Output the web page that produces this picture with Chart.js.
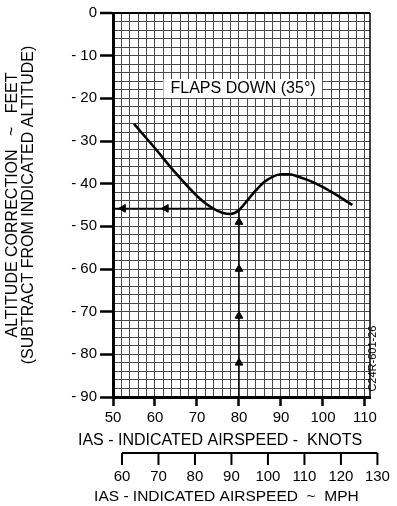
<!DOCTYPE html>
<html>
<head>
<meta charset="utf-8">
<script src="https://cdn.jsdelivr.net/npm/chart.js@4"></script>
<style>
  body { margin: 0; background: #fff; }
  canvas { display: block; }
</style>
</head>
<body>
<canvas id="myChart" width="397" height="506"></canvas>
<script>
// curve (knots -> feet)
const knots = [55, 60, 65, 70, 72, 74, 76, 78, 80, 82, 84, 86, 88, 90, 92, 94, 96, 98, 100, 102, 104, 106, 107];
const correction = [-26, -31.7, -37.6, -42.9, -44.6, -45.9, -46.8, -47.1, -46.2, -43.9, -41.6, -39.6, -38.4, -37.8, -37.8, -38.3, -39, -39.8, -40.8, -41.9, -43.1, -44.4, -45];

// example path arrows
const guideH = [{x: 50, y: -45.8}, {x: 74, y: -45.8}];
const guideV = [{x: 80, y: -90}, {x: 80, y: -46.2}];
const arrowsLeft = [{x: 52.4, y: -45.8}, {x: 62.6, y: -45.8}];
const arrowsUp = [{x: 80, y: -49}, {x: 80, y: -60}, {x: 80, y: -71}, {x: 80, y: -82}];

const mphTicks = [60, 70, 80, 90, 100, 110, 120, 130];
const KNOTS_PER_MPH = 0.868976;

const FONT = 'Liberation Sans, Arial, sans-serif';
Chart.defaults.font.family = FONT;
Chart.defaults.color = '#000';

const isMajor = v => Math.round(v) % 10 === 0;

const extras = {
  id: 'extras',
  afterDraw(chart) {
    const ctx = chart.ctx;
    const x = chart.scales.x, y = chart.scales.y;
    const area = chart.chartArea;
    ctx.save();

    // right frame edge
    ctx.strokeStyle = '#000';
    ctx.lineWidth = 1.5;
    ctx.beginPath();
    ctx.moveTo(area.right, area.top);
    ctx.lineTo(area.right, area.bottom);
    ctx.stroke();

    // flaps label on white
    ctx.fillStyle = '#fff';
    const bx = x.getPixelForValue(62), bx2 = x.getPixelForValue(99.8);
    const by = y.getPixelForValue(-15.5), by2 = y.getPixelForValue(-19.9);
    ctx.fillRect(bx, by, bx2 - bx, by2 - by);
    ctx.fillStyle = '#000';
    ctx.font = '16px ' + FONT;
    ctx.textBaseline = 'middle';
    ctx.textAlign = 'left';
    ctx.fillText('FLAPS DOWN (35°)', x.getPixelForValue(63.7), y.getPixelForValue(-17.7));

    // drawing number
    ctx.save();
    ctx.translate(area.right + 3, y.getPixelForValue(-81));
    ctx.rotate(-Math.PI / 2);
    ctx.font = '11px ' + FONT;
    ctx.textAlign = 'center';
    ctx.textBaseline = 'middle';
    ctx.fillText('C24R-601-26', 0, 0);
    ctx.restore();

    // knots axis title
    ctx.textAlign = 'center';
    ctx.font = '16px ' + FONT;
    ctx.fillText('IAS - INDICATED AIRSPEED -  KNOTS', x.getPixelForValue(75.5), area.bottom + 44);

    // second axis in mph
    const lineY = area.bottom + 56;
    const px = mphTicks.map(m => x.getPixelForValue(m * KNOTS_PER_MPH));
    ctx.lineWidth = 2;
    ctx.beginPath();
    ctx.moveTo(px[0], lineY);
    ctx.lineTo(px[px.length - 1], lineY);
    px.forEach(p => { ctx.moveTo(p, lineY); ctx.lineTo(p, lineY + 12); });
    ctx.stroke();
    ctx.font = '15px ' + FONT;
    mphTicks.forEach((m, i) => ctx.fillText(String(m), px[i], lineY + 24));
    ctx.font = '15.5px ' + FONT;
    ctx.fillText('IAS - INDICATED AIRSPEED  ~  MPH', x.getPixelForValue(77), lineY + 44);
    ctx.restore();
  }
};

const config = {
  type: 'line',
  data: {
    datasets: [
      {
        data: knots.map((k, i) => ({x: k, y: correction[i]})),
        borderColor: '#000',
        borderWidth: 2.6,
        pointRadius: 0,
        cubicInterpolationMode: 'monotone'
      },
      { data: guideH, borderColor: '#000', borderWidth: 1.5, pointRadius: 0 },
      { data: guideV, borderColor: '#000', borderWidth: 1.5, pointRadius: 0 },
      {
        data: arrowsLeft, showLine: false, pointStyle: 'triangle', rotation: -90,
        pointRadius: 4.5, backgroundColor: '#000', borderColor: '#000', borderWidth: 1
      },
      {
        data: arrowsUp, showLine: false, pointStyle: 'triangle', rotation: 0,
        pointRadius: 4.5, backgroundColor: '#000', borderColor: '#000', borderWidth: 1
      }
    ]
  },
  options: {
    responsive: false,
    animation: false,
    layout: { padding: { top: 13, right: 27, left: 0, bottom: 0 } },
    plugins: { legend: { display: false }, tooltip: { enabled: false } },
    scales: {
      x: {
        type: 'linear',
        min: 50,
        max: 111.2,
        afterFit(scale) { scale.height = 109; },
        border: { display: true, color: '#000', width: 3 },
        grid: {
          color: '#4a4a4a',
          lineWidth: 1,
          drawTicks: true,
          tickLength: 9,
          tickWidth: 2.5,
          tickColor: c => isMajor(c.tick.value) ? '#000' : 'rgba(0,0,0,0)'
        },
        ticks: {
          stepSize: 2,
          includeBounds: false,
          autoSkip: false,
          maxRotation: 0,
          padding: 3,
          font: { size: 15 },
          callback: v => isMajor(v) ? String(Math.round(v)) : ''
        },
        title: { display: false }
      },
      y: {
        type: 'linear',
        min: -90,
        max: 0,
        afterFit(scale) { scale.width = 113; },
        border: { display: true, color: '#000', width: 3 },
        grid: {
          color: c => c.tick.value === 0 ? '#000' : '#4a4a4a',
          lineWidth: c => c.tick.value === 0 ? 2 : 1,
          drawTicks: true,
          tickLength: 13,
          tickWidth: 2.5,
          tickColor: c => isMajor(c.tick.value) ? '#000' : 'rgba(0,0,0,0)'
        },
        ticks: {
          stepSize: 2,
          autoSkip: false,
          padding: 3,
          font: { size: 15 },
          callback: v => !isMajor(v) ? '' : (v === 0 ? '0' : '- ' + Math.abs(Math.round(v)))
        },
        title: {
          display: true,
          text: ['ALTITUDE CORRECTION   ~   FEET', '(SUBTRACT FROM INDICATED ALTITUDE)'],
          font: { size: 16, lineHeight: 1.0 },
          padding: { top: 5, bottom: 0 }
        }
      }
    }
  },
  plugins: [extras]
};

new Chart(document.getElementById('myChart'), config);
</script>
</body>
</html>
